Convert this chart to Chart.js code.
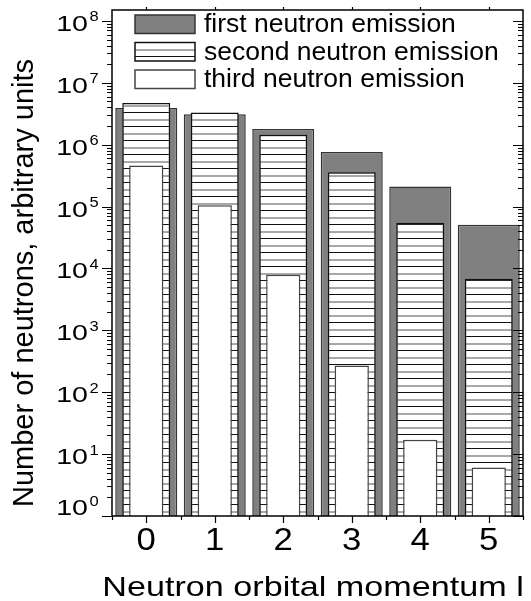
<!DOCTYPE html>
<html>
<head>
  <meta charset="UTF-8">
  <title>Neutron emission vs orbital momentum</title>
  <script src="https://cdn.jsdelivr.net/npm/chart.js"></script>
  <style>
    body { margin: 0; background: #fff; }
    canvas { display: block; }
  </style>
</head>
<body>
  <canvas id="chart" width="531" height="601"></canvas>
  <script>
    const momenta = ['0', '1', '2', '3', '4', '5'];
    const firstEmission = [3.9e6, 3.1e6, 1.8e6, 7.6e5, 2.1e5, 5.1e4];
    const secondEmission = [4.7e6, 3.3e6, 1.45e6, 3.6e5, 5.5e4, 6.8e3];
    const thirdEmission = [4.6e5, 1.05e5, 7.9e3, 2.7e2, 17, 6.1];
    const decades = [0, 1, 2, 3, 4, 5, 6, 7, 8];

    const FONT = '"Liberation Sans", Arial, sans-serif';

    // horizontal stripes: thin black line and wider grey line, on white
    function stripes() {
      const c = document.createElement('canvas');
      c.width = 8; c.height = 14;
      const g = c.getContext('2d');
      g.fillStyle = '#fff';
      g.fillRect(0, 0, 8, 14);
      g.fillStyle = '#111';
      g.fillRect(0, 0, 8, 1);
      g.fillStyle = '#a8a8a8';
      g.fillRect(0, 7, 8, 2);
      return g.createPattern(c, 'repeat');
    }
    const hatch = stripes();

    const datasets = [
      { label: 'first neutron emission', data: firstEmission, backgroundColor: '#808080',
        borderColor: '#333', borderWidth: 1.5, barPercentage: 0.905, order: 3 },
      { label: 'second neutron emission', data: secondEmission, backgroundColor: hatch,
        borderColor: '#111', borderWidth: 1.5, barPercentage: 0.70, order: 2 },
      { label: 'third neutron emission', data: thirdEmission, backgroundColor: '#fff',
        borderColor: '#444', borderWidth: 1.5, barPercentage: 0.5, order: 1 }
    ];

    function stretchedText(ctx, text, x, y, sx, align) {
      const w = ctx.measureText(text).width * sx;
      let left = x;
      if (align === 'center') left = x - w / 2;
      if (align === 'right') left = x - w;
      ctx.save();
      ctx.translate(left, y);
      ctx.scale(sx, 1);
      ctx.textAlign = 'left';
      ctx.fillText(text, 0, 0);
      ctx.restore();
      return w;
    }

    const frame = {
      id: 'frame',
      afterDraw(chart) {
        const { ctx, chartArea: a, scales: { x, y } } = chart;
        ctx.save();
        ctx.strokeStyle = '#000';
        ctx.fillStyle = '#000';
        ctx.lineWidth = 1.5;
        ctx.strokeRect(a.left, a.top, a.right - a.left, a.bottom - a.top);

        // log ticks: outward on the left, inward on the right
        ctx.lineWidth = 1.2;
        ctx.beginPath();
        decades.forEach(d => {
          for (let m = 1; m <= 9; m++) {
            const v = m * Math.pow(10, d);
            if (v > y.max) break;
            const py = Math.round(y.getPixelForValue(v)) + 0.5;
            const len = m === 1 ? 10 : 5;
            ctx.moveTo(a.left - len, py); ctx.lineTo(a.left, py);
            ctx.moveTo(a.right - len, py); ctx.lineTo(a.right, py);
          }
        });
        // category ticks
        momenta.forEach((_, i) => {
          const px = Math.round(x.getPixelForValue(i)) + 0.5;
          ctx.moveTo(px, a.bottom); ctx.lineTo(px, a.bottom + 7);
          ctx.moveTo(px, a.top); ctx.lineTo(px, a.top - 3);
        });
        for (let i = 0; i <= momenta.length; i++) {
          const px = Math.round(x.getPixelForValue(i - 0.5)) + 0.5;
          ctx.moveTo(px, a.bottom); ctx.lineTo(px, a.bottom + 4);
        }
        ctx.stroke();

        // y labels 10^n
        ctx.textBaseline = 'alphabetic';
        decades.forEach(d => {
          const py = y.getPixelForValue(Math.pow(10, d));
          const base = d === 0 ? py - 1 : py + 10;
          ctx.font = '22px ' + FONT;
          stretchedText(ctx, '10', 88, base, 1.3, 'right');
          ctx.font = '15px ' + FONT;
          stretchedText(ctx, String(d), 89.5, base - 9.5, 1.1, 'left');
        });

        // x labels
        ctx.font = '31px ' + FONT;
        momenta.forEach((lab, i) => {
          stretchedText(ctx, lab, x.getPixelForValue(i), 550, 1.12, 'center');
        });

        // axis titles
        ctx.font = '28px ' + FONT;
        stretchedText(ctx, 'Neutron orbital momentum l', 313, 596, 1.22, 'center');
        ctx.save();
        ctx.translate(33, 283);
        ctx.rotate(-Math.PI / 2);
        ctx.font = '29px ' + FONT;
        ctx.textAlign = 'center';
        ctx.fillText('Number of neutrons, arbitrary units', 0, 0);
        ctx.restore();

        // legend
        ctx.font = '26.5px ' + FONT;
        ctx.textBaseline = 'middle';
        const rows = [15, 42.5, 70];
        datasets.forEach((ds, i) => {
          const top = rows[i];
          ctx.fillStyle = ds.backgroundColor;
          ctx.fillRect(135, top, 60, 18.5);
          ctx.lineWidth = 1.5;
          ctx.strokeStyle = ds.borderColor;
          ctx.strokeRect(135, top, 60, 18.5);
          ctx.fillStyle = '#000';
          ctx.textAlign = 'left';
          ctx.fillText(ds.label, 204, top + 10);
        });
        ctx.restore();
      }
    };

    new Chart(document.getElementById('chart'), {
      type: 'bar',
      data: {
        labels: momenta,
        datasets: datasets.map(d => Object.assign({ grouped: false, categoryPercentage: 1 }, d))
      },
      options: {
        responsive: false,
        animation: false,
        devicePixelRatio: 1,
        layout: { padding: { top: 10, right: 8, left: 0, bottom: 0 } },
        plugins: { legend: { display: false }, tooltip: { enabled: false } },
        scales: {
          x: {
            grid: { display: false },
            border: { display: false },
            ticks: { display: false },
            afterFit(s) { s.height = 85; }
          },
          y: {
            type: 'logarithmic',
            min: 1,
            max: 1.5e8,
            bounds: 'data',
            grid: { display: false },
            border: { display: false },
            ticks: { display: false },
            afterFit(s) { s.width = 112; }
          }
        }
      },
      plugins: [frame]
    });
  </script>
</body>
</html>
